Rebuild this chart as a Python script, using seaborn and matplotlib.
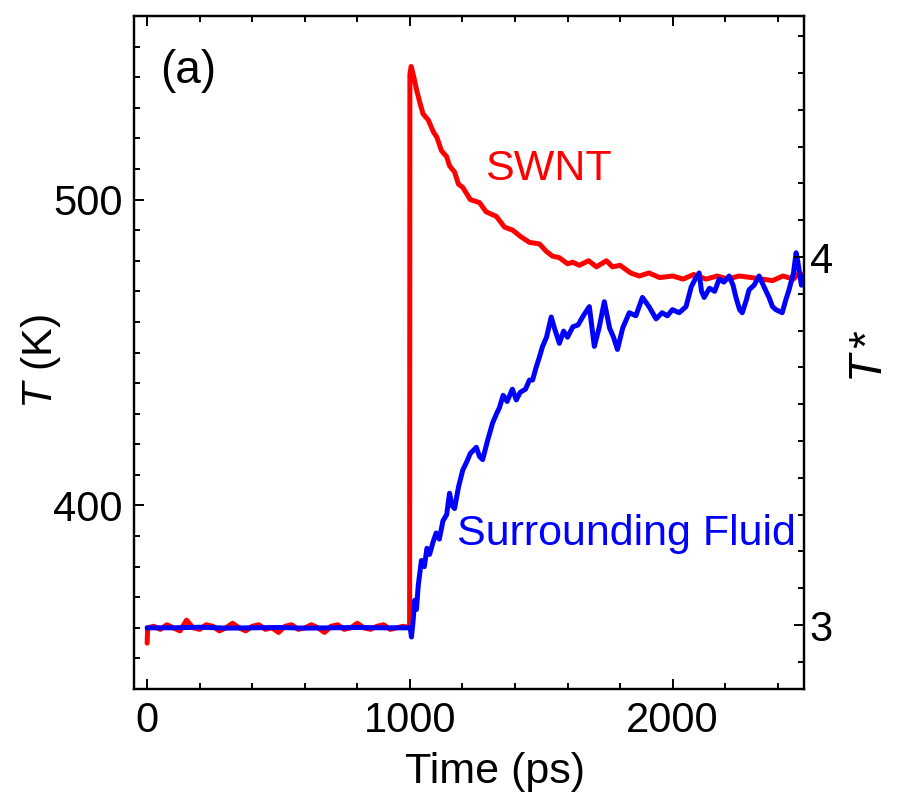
import numpy as np
import pandas as pd
import matplotlib
matplotlib.use("Agg")
import matplotlib.pyplot as plt
from matplotlib.ticker import MultipleLocator
import seaborn as sns

# ---- data ----
time_swnt = [0, 2, 25, 50, 75, 100, 125, 150, 175, 200, 225, 250, 275, 300, 325, 350,
             375, 400, 425, 450, 475, 500, 525, 550, 575, 600, 625, 650, 675, 700, 725,
             750, 775, 800, 825, 850, 875, 900, 925, 950, 975, 999,
             1000, 1005, 1015, 1025, 1037, 1050, 1070, 1090, 1102, 1120, 1140, 1151,
             1170, 1185, 1201, 1230, 1265, 1290, 1329, 1360, 1391, 1420, 1455, 1493,
             1520, 1543, 1569, 1600, 1620, 1645, 1680, 1710, 1748, 1771, 1800, 1840,
             1873, 1910, 1950, 2000, 2040, 2080, 2127, 2170, 2210, 2253, 2300, 2340,
             2380, 2420, 2460, 2481, 2500]
temp_swnt = [355, 360, 360.5, 359.5, 361, 360, 359, 362.5, 360, 359.5, 361, 360.5, 359,
             360, 361.5, 360, 359, 360.5, 361, 359.5, 360, 358.5, 360.5, 361, 359.5,
             360, 361, 360, 358.5, 360.5, 361, 359.5, 360, 361.5, 360, 359.5, 360.5,
             361, 359.5, 360, 360.5, 360,
             541, 543.5, 540, 536, 532, 528, 526, 522, 520.5, 516, 514, 511,
             509, 505, 504, 500, 499, 496, 494.5, 491, 490, 488, 486, 485.5,
             483, 481.5, 481, 479, 479.5, 478.5, 480, 478, 480, 478, 478.5, 476,
             475, 476, 474.5, 475, 474, 475.5, 474, 475, 474, 475, 474.5, 474,
             473.5, 475, 474, 476, 475]

time_fluid = [0, 100, 200, 300, 400, 500, 600, 700, 800, 900, 1000, 1003, 1006, 1012,
              1018, 1025, 1032, 1044, 1055, 1065, 1075, 1088, 1100, 1112, 1126, 1140,
              1151, 1160, 1170, 1185, 1201, 1215, 1230, 1253, 1265, 1277, 1295, 1315,
              1330, 1341, 1355, 1370, 1390, 1405, 1420, 1440, 1455, 1467, 1480, 1493,
              1505, 1520, 1538, 1550, 1569, 1585, 1600, 1620, 1640, 1660, 1683, 1702,
              1720, 1740, 1760, 1775, 1790, 1810, 1835, 1860, 1885, 1910, 1937, 1960,
              1980, 1999, 2025, 2051, 2071, 2086, 2101, 2110, 2120, 2140, 2160, 2177,
              2195, 2215, 2230, 2241, 2255, 2265, 2280, 2291, 2310, 2329, 2345, 2367,
              2380, 2393, 2417, 2430, 2443, 2460, 2470, 2476, 2481, 2490, 2500]
temp_fluid = [360, 360, 360.2, 359.9, 360, 360.1, 359.9, 360, 360.1, 360, 360, 359, 357, 362,
              369, 366, 374, 382, 380, 386, 384, 388, 391, 389, 395, 397,
              404, 400, 399, 406, 411.5, 414, 417, 419, 416, 415, 421, 427,
              430, 432, 436, 434, 438, 434.5, 437, 438, 441, 441, 445, 448.5,
              452, 455, 461.6, 458, 453, 457, 455, 458.4, 459, 462, 465, 452,
              458, 466.6, 458, 455, 451, 458, 463, 462, 468, 465, 461, 463,
              462, 464, 463, 465, 471.5, 474, 476, 470, 468, 471, 470, 474,
              473, 475, 472, 468, 464, 463, 467, 470.5, 472, 475, 472, 468,
              465, 464, 463, 467, 470.5, 476, 482.6, 480, 477, 472, 475]

series_names = ["SWNT", "Surrounding Fluid"]
series_colors = ["#ff0000", "#0000ff"]
x_ticks = [0, 1000, 2000]
y_ticks = [400, 500]
tstar_ticks = [3, 4]
T_UNIT = 120.3  # K per reduced temperature unit

df = pd.concat([
    pd.DataFrame({"Time": time_swnt, "T": temp_swnt, "series": series_names[0]}),
    pd.DataFrame({"Time": time_fluid, "T": temp_fluid, "series": series_names[1]}),
], ignore_index=True)

sns.set_style("ticks")
plt.rcParams["font.family"] = ["Liberation Sans", "DejaVu Sans"]
plt.rcParams["mathtext.fontset"] = "custom"
plt.rcParams["mathtext.rm"] = "Liberation Sans"
plt.rcParams["mathtext.it"] = "Liberation Sans:italic"
for k in ["text.color", "axes.labelcolor", "xtick.color", "ytick.color", "axes.edgecolor"]:
    plt.rcParams[k] = "black"

fig = plt.figure(figsize=(9.07, 7.98), dpi=100)
ax = fig.add_axes([134/907, 1-689/798, 670/907, 673/798])

sns.lineplot(data=df, x="Time", y="T", hue="series", hue_order=series_names,
             palette=dict(zip(series_names, series_colors)), estimator=None,
             sort=False, linewidth=3.6, legend=False, ax=ax)

ax.set_xlim(-50, 2500)
ax.set_ylim(340, 560)
ax.set_xticks(x_ticks)
ax.set_yticks(y_ticks)
ax.xaxis.set_minor_locator(MultipleLocator(200))
ax.yaxis.set_minor_locator(MultipleLocator(10))
ax.tick_params(axis="both", which="both", direction="in", width=1.4,
               labelsize=30, top=True, right=False, colors="black")
ax.tick_params(which="major", length=7.5)
ax.tick_params(which="minor", length=4)
ax.tick_params(axis="y", pad=8)
ax.tick_params(axis="x", pad=9)
for s in ax.spines.values():
    s.set_linewidth(1.6)
    s.set_color("black")

ax.set_xlabel("Time (ps)", fontsize=31)
ax.xaxis.set_label_coords(0.539, -0.093)
ax.set_ylabel(r"$T$ (K)", fontsize=31)
ax.yaxis.set_label_coords(-0.106, 0.487)

ax2 = ax.twinx()
ax2.set_ylim(340 / T_UNIT, 560 / T_UNIT)
ax2.set_yticks(tstar_ticks)
ax2.yaxis.set_minor_locator(MultipleLocator(0.1))
ax2.tick_params(axis="y", which="both", direction="in", width=1.4, labelsize=30, pad=4,
                colors="black")
ax2.tick_params(which="major", length=7.5)
ax2.tick_params(which="minor", length=4)
for s in ax2.spines.values():
    s.set_linewidth(1.6)
    s.set_color("black")
ax2.set_ylabel(r"$T\,$*", fontsize=33)
ax2.yaxis.set_label_coords(1.066, 0.495)

ax.text(0.039, 0.90, "(a)", transform=ax.transAxes, fontsize=33, ha="left", va="baseline")
ax.text(0.524, 0.756, "SWNT", transform=ax.transAxes, fontsize=31, color=series_colors[0],
        ha="left", va="baseline")
ax.text(0.482, 0.214, "Surrounding Fluid", transform=ax.transAxes, fontsize=31,
        color=series_colors[1], ha="left", va="baseline")

fig.savefig("out.png", dpi=100)
